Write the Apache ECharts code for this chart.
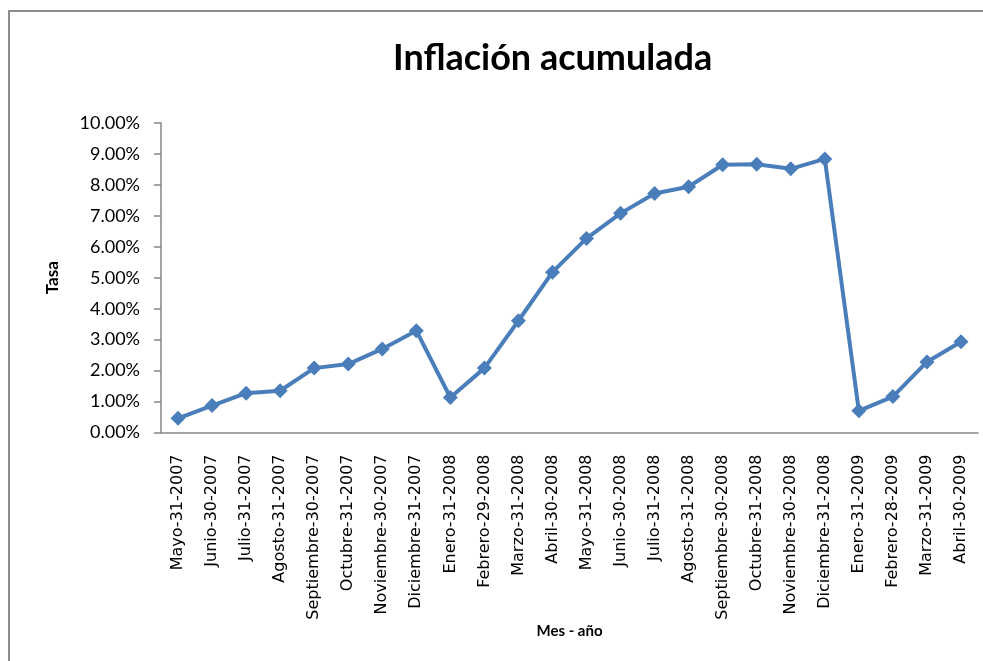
<!DOCTYPE html>
<html>
<head>
<meta charset="utf-8">
<script src="https://cdn.jsdelivr.net/npm/echarts@6/dist/echarts.min.js"></script>
<style>
  html, body { margin: 0; padding: 0; background: #fff; }
  #chart { width: 983px; height: 661px; }
</style>
</head>
<body>
<div id="chart"></div>
<script>
// meses (fin de mes) y tasa acumulada en %
const meses = [
  'Mayo-31-2007', 'Junio-30-2007', 'Julio-31-2007', 'Agosto-31-2007',
  'Septiembre-30-2007', 'Octubre-31-2007', 'Noviembre-30-2007', 'Diciembre-31-2007',
  'Enero-31-2008', 'Febrero-29-2008', 'Marzo-31-2008', 'Abril-30-2008',
  'Mayo-31-2008', 'Junio-30-2008', 'Julio-31-2008', 'Agosto-31-2008',
  'Septiembre-30-2008', 'Octubre-31-2008', 'Noviembre-30-2008', 'Diciembre-31-2008',
  'Enero-31-2009', 'Febrero-28-2009', 'Marzo-31-2009', 'Abril-30-2009'
];
const tasa = [
  0.46, 0.87, 1.27, 1.35, 2.08, 2.21, 2.70, 3.29,
  1.13, 2.08, 3.61, 5.18, 6.27, 7.08, 7.72, 7.94,
  8.65, 8.67, 8.52, 8.84, 0.70, 1.16, 2.28, 2.93
];

const gris = '#868686';

let myChart = echarts.init(document.getElementById('chart'));
myChart.setOption({
  animation: false,
  backgroundColor: '#fff',
  graphic: [{
    type: 'rect',
    shape: { x: 9, y: 11, width: 1000, height: 700 },
    style: { fill: 'none', stroke: '#8c8c8c', lineWidth: 2 }
  }],
  title: {
    text: 'Inflación acumulada',
    left: 388,
    top: 35,
    textStyle: { fontFamily: 'Lato', fontWeight: 'bold', fontSize: 36, color: '#000' }
  },
  grid: { left: 161, right: 5, top: 123, bottom: 228.5, containLabel: false },
  xAxis: {
    type: 'category',
    data: meses,
    name: 'Mes - año',
    nameLocation: 'middle',
    nameGap: 182,
    nameTextStyle: { fontFamily: 'Lato', fontWeight: 'bold', fontSize: 15, color: '#000' },
    axisLine: { lineStyle: { color: gris, width: 1.5 } },
    axisTick: { length: 7, lineStyle: { color: gris, width: 1.5 } },
    axisLabel: {
      rotate: 90, interval: 0, margin: 22,
      fontFamily: 'DejaVu Sans', fontSize: 16, color: '#000'
    }
  },
  yAxis: {
    type: 'value',
    min: 0, max: 10, interval: 1,
    name: 'Tasa',
    nameLocation: 'middle',
    nameRotate: 90,
    nameGap: 100,
    nameTextStyle: { fontFamily: 'Lato', fontWeight: 'bold', fontSize: 17, color: '#000' },
    splitLine: { show: false },
    axisLine: { show: true, lineStyle: { color: gris, width: 1.5 } },
    axisTick: { show: true, length: 7, lineStyle: { color: gris, width: 1.5 } },
    axisLabel: {
      margin: 21,
      fontFamily: 'Lato', fontSize: 18, color: '#000',
      formatter: v => v.toFixed(2) + '%'
    }
  },
  series: [{
    type: 'line',
    data: tasa,
    symbol: 'diamond',
    symbolSize: 15,
    lineStyle: { color: '#4a7ebb', width: 4 },
    itemStyle: { color: '#4a7ebb' }
  }]
});
window.addEventListener('resize', function () { myChart.resize(); });
</script>
</body>
</html>
